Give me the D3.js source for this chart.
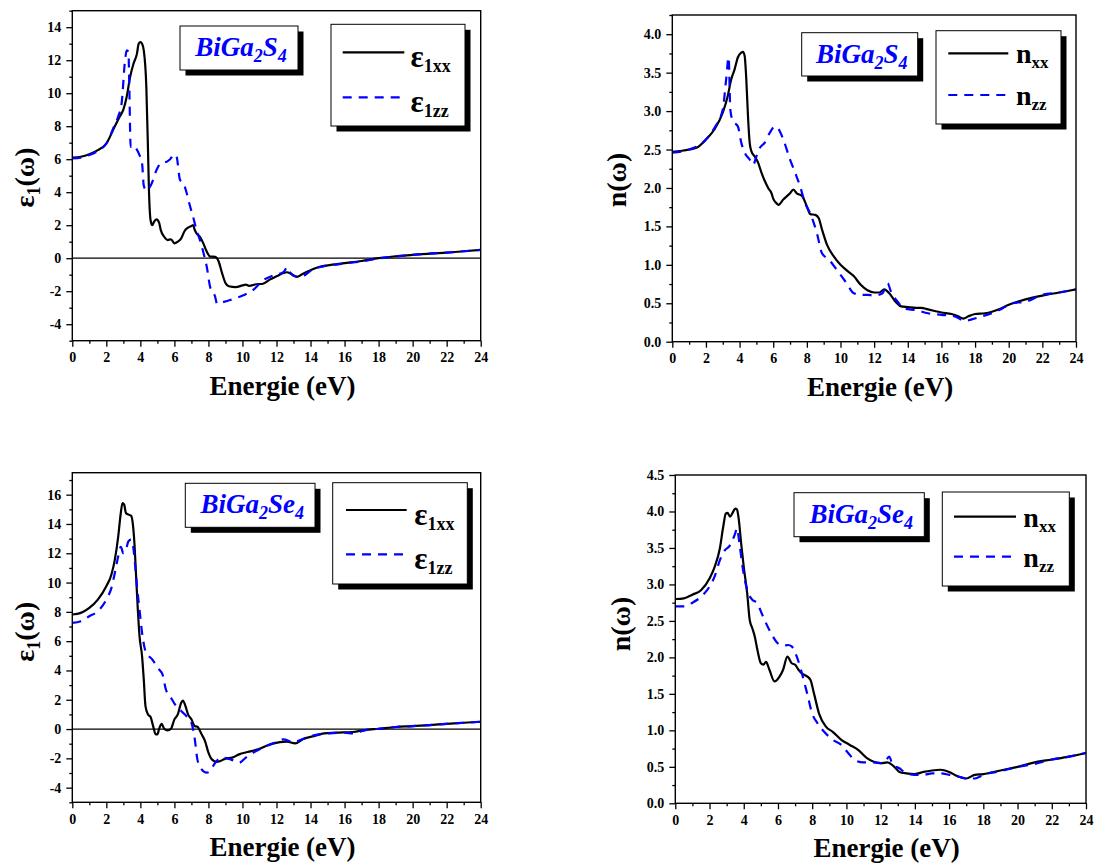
<!DOCTYPE html>
<html>
<head>
<meta charset="utf-8">
<script src="https://cdn.jsdelivr.net/npm/d3@7"></script>
<style>
body { margin: 0; background: #fff; }
</style>
</head>
<body>
<svg id="chart" width="1094" height="864"></svg>
<script>
var FONT = "Liberation Serif";

// x axis (energy, eV)
var xMajor = [0, 2, 4, 6, 8, 10, 12, 14, 16, 18, 20, 22, 24];
var xMinor = [1, 3, 5, 7, 9, 11, 13, 15, 17, 19, 21, 23];

// BiGa2S4 - real part of dielectric function
var eps1xx_S = [[0,6.1],[0.5,6.15],[1,6.3],[1.5,6.55],[2,6.95],[2.5,8.0],[2.8,8.6],[3,9.0],[3.2,9.8],[3.4,11.0],[3.6,11.8],[3.8,12.4],[3.9,13.0],[4.0,13.1],[4.1,13.0],[4.2,12.6],[4.35,10.4],[4.45,6.5],[4.5,4.3],[4.6,2.3],[4.7,2.0],[4.8,2.2],[4.95,2.35],[5.1,2.15],[5.2,1.7],[5.4,1.3],[5.6,1.1],[5.8,1.15],[6.0,0.9],[6.2,1.0],[6.4,1.2],[6.6,1.65],[6.8,1.85],[7.0,1.95],[7.1,2.0],[7.2,1.7],[7.3,1.5],[7.5,1.3],[7.7,0.9],[7.9,0.4],[8.1,0.1],[8.4,0.08],[8.6,-0.2],[8.8,-0.9],[9.0,-1.5],[9.2,-1.7],[9.6,-1.75],[10.0,-1.65],[10.2,-1.6],[10.4,-1.68],[10.8,-1.58],[11.2,-1.55],[11.6,-1.3],[12.0,-1.1],[12.4,-0.9],[12.6,-0.85],[12.9,-0.97],[13.2,-1.13],[13.5,-0.97],[14,-0.73],[14.5,-0.53],[15,-0.43],[16,-0.3],[17,-0.17],[18,0],[19,0.12],[20,0.2],[21,0.28],[22,0.34],[23,0.42],[24,0.5]];
var eps1zz_S = [[0,6.05],[0.5,6.1],[1,6.25],[1.5,6.5],[2,6.95],[2.5,8.1],[2.7,8.6],[2.9,9.4],[3.1,12.0],[3.2,12.6],[3.3,12.5],[3.35,10.4],[3.43,6.75],[3.6,6.85],[3.75,6.65],[3.95,6.25],[4.1,5.75],[4.2,4.4],[4.35,4.1],[4.65,4.5],[4.95,5.35],[5.25,5.8],[5.55,5.85],[5.75,6.0],[6.0,6.3],[6.13,6.15],[6.33,4.75],[6.52,4.55],[6.68,4.1],[6.88,3.3],[7.1,2.5],[7.3,1.7],[7.5,1.1],[7.74,0.2],[7.9,-0.5],[8.1,-1.75],[8.4,-2.35],[8.5,-2.75],[8.9,-2.65],[9.5,-2.45],[10.05,-2.25],[10.6,-1.95],[11.2,-1.35],[11.8,-1.05],[12.4,-0.85],[12.65,-0.55],[12.8,-0.85],[13.1,-1.1],[13.6,-1.05],[14.05,-0.73],[14.5,-0.55],[15,-0.45],[16,-0.32],[17,-0.2],[18,-0.02],[19,0.1],[20,0.2],[21,0.28],[22,0.34],[23,0.42],[24,0.5]];

// BiGa2S4 - refractive index
var nxx_S = [[0,2.47],[1,2.5],[1.5,2.53],[2,2.63],[2.5,2.76],[3,2.98],[3.3,3.2],[3.5,3.41],[3.7,3.54],[3.9,3.7],[4.1,3.76],[4.2,3.77],[4.3,3.72],[4.4,3.41],[4.5,2.93],[4.6,2.59],[4.7,2.48],[4.9,2.41],[5.1,2.33],[5.3,2.2],[5.5,2.09],[5.7,2.0],[5.9,1.93],[6.0,1.86],[6.2,1.8],[6.3,1.78],[6.6,1.85],[6.8,1.89],[7.0,1.93],[7.2,1.98],[7.4,1.93],[7.7,1.9],[8.0,1.76],[8.2,1.66],[8.5,1.65],[8.7,1.61],[8.9,1.46],[9.2,1.26],[9.6,1.11],[10.0,1.0],[10.3,0.94],[10.8,0.85],[11.2,0.74],[11.6,0.67],[12.0,0.64],[12.3,0.64],[12.6,0.68],[12.9,0.63],[13.2,0.54],[13.6,0.46],[14.0,0.45],[14.5,0.44],[14.8,0.44],[15.2,0.42],[15.6,0.4],[16.0,0.38],[16.6,0.36],[17.0,0.33],[17.3,0.3],[17.6,0.33],[18.0,0.36],[18.6,0.37],[19.0,0.39],[19.5,0.43],[20,0.48],[21,0.55],[22,0.6],[23,0.64],[24,0.68]];
var nzz_S = [[0,2.46],[1,2.5],[2,2.63],[2.5,2.78],[3,3.02],[3.2,3.41],[3.35,3.7],[3.45,3.02],[3.6,2.87],[3.9,2.8],[4.1,2.59],[4.3,2.46],[4.6,2.37],[4.8,2.3],[5.0,2.41],[5.2,2.52],[5.5,2.59],[5.8,2.72],[6.1,2.8],[6.3,2.77],[6.6,2.63],[7.0,2.37],[7.3,2.2],[7.6,2.02],[7.9,1.8],[8.2,1.67],[8.6,1.41],[8.9,1.15],[9.3,1.07],[9.8,0.93],[10.3,0.78],[10.8,0.63],[11.2,0.61],[11.6,0.61],[12.0,0.6],[12.5,0.63],[12.8,0.76],[13.0,0.65],[13.4,0.52],[13.8,0.43],[14.5,0.41],[15.2,0.37],[16.0,0.35],[16.8,0.33],[17.4,0.27],[17.8,0.29],[18.4,0.33],[19.0,0.37],[19.6,0.43],[20.2,0.5],[21,0.52],[22,0.61],[23,0.64],[24,0.68]];

// BiGa2Se4 - real part of dielectric function
var eps1xx_Se = [[0,7.82],[0.5,7.93],[1,8.27],[1.5,8.84],[2,9.75],[2.3,10.55],[2.5,11.57],[2.7,13.16],[2.85,14.75],[2.95,15.43],[3.05,15.32],[3.15,14.75],[3.3,14.64],[3.45,14.57],[3.55,14.07],[3.65,12.7],[3.75,10.43],[3.85,8.16],[3.95,6.34],[4.1,4.98],[4.2,3.39],[4.3,1.57],[4.45,1.0],[4.6,0.82],[4.75,0.2],[4.9,-0.36],[5.0,-0.36],[5.1,0.0],[5.25,0.36],[5.4,0.02],[5.6,-0.09],[5.8,0.02],[6.0,0.66],[6.2,1.0],[6.4,1.8],[6.5,1.95],[6.65,1.57],[6.8,1.0],[7.0,0.66],[7.2,0.2],[7.35,0.16],[7.6,-0.36],[7.8,-0.82],[8.0,-1.61],[8.2,-2.07],[8.5,-2.25],[8.7,-2.18],[9.0,-2.02],[9.4,-1.95],[9.8,-1.73],[10.3,-1.57],[11.0,-1.34],[11.6,-1.05],[12.2,-0.89],[12.6,-0.86],[13.1,-0.98],[13.6,-0.66],[14.2,-0.48],[14.8,-0.3],[15.5,-0.25],[16.5,-0.2],[17.2,-0.07],[18,0.02],[19,0.14],[20,0.2],[21,0.27],[22,0.36],[23,0.43],[24,0.5]];
var eps1zz_Se = [[0,7.25],[0.5,7.36],[1,7.7],[1.5,8.05],[2,8.84],[2.3,9.64],[2.5,10.66],[2.7,11.8],[2.85,12.43],[3.0,12.0],[3.15,12.25],[3.3,12.82],[3.45,12.93],[3.6,12.25],[3.7,11.1],[3.8,9.75],[3.95,8.16],[4.1,6.57],[4.3,5.32],[4.5,4.98],[4.7,4.75],[4.9,4.41],[5.1,4.07],[5.3,3.73],[5.5,2.7],[5.8,2.14],[6.1,1.57],[6.4,1.23],[6.7,0.89],[7.0,0.43],[7.2,-0.7],[7.35,-2.07],[7.6,-2.75],[7.9,-2.98],[8.1,-2.86],[8.4,-2.3],[8.8,-1.95],[9.3,-2.07],[9.8,-2.3],[10.2,-1.95],[10.8,-1.5],[11.4,-1.16],[12.0,-0.89],[12.4,-0.7],[13.0,-0.89],[13.6,-0.66],[14.2,-0.43],[15,-0.3],[16,-0.25],[16.5,-0.3],[17.2,-0.07],[18,0.02],[19,0.14],[20,0.2],[21,0.27],[22,0.36],[23,0.43],[24,0.5]];

// BiGa2Se4 - refractive index
var nxx_Se = [[0,2.8],[0.5,2.81],[1,2.86],[1.5,2.92],[2,3.08],[2.3,3.24],[2.6,3.49],[2.8,3.79],[2.95,3.97],[3.05,3.98],[3.2,3.93],[3.35,3.98],[3.5,4.04],[3.6,4.03],[3.7,3.91],[3.85,3.56],[4.0,3.24],[4.2,2.88],[4.35,2.51],[4.5,2.4],[4.65,2.28],[4.8,2.1],[5.0,1.92],[5.15,1.9],[5.3,1.94],[5.5,1.83],[5.8,1.67],[6.1,1.74],[6.3,1.83],[6.55,2.01],[6.8,1.92],[7.0,1.9],[7.2,1.83],[7.4,1.78],[7.7,1.74],[7.9,1.69],[8.1,1.51],[8.4,1.23],[8.8,1.05],[9.2,0.98],[9.7,0.87],[10.2,0.8],[10.7,0.73],[11.2,0.62],[11.6,0.57],[12.0,0.55],[12.4,0.56],[12.8,0.5],[13.1,0.43],[13.5,0.41],[14.0,0.4],[14.5,0.43],[15,0.45],[15.5,0.46],[16.0,0.43],[16.5,0.37],[17.0,0.34],[17.5,0.39],[18,0.4],[19,0.45],[20,0.5],[21,0.56],[22,0.6],[23,0.64],[24,0.69]];
var nzz_Se = [[0,2.7],[0.5,2.7],[1,2.75],[1.5,2.83],[2,2.97],[2.3,3.11],[2.6,3.33],[2.9,3.47],[3.15,3.52],[3.35,3.61],[3.5,3.7],[3.6,3.77],[3.75,3.56],[3.9,3.29],[4.1,3.02],[4.3,2.86],[4.5,2.79],[4.8,2.74],[5.0,2.63],[5.3,2.47],[5.6,2.33],[6.0,2.19],[6.3,2.16],[6.6,2.17],[6.8,2.15],[7.1,2.01],[7.4,1.78],[7.7,1.51],[8.0,1.23],[8.3,1.1],[8.7,0.98],[9.2,0.87],[9.7,0.8],[10.1,0.69],[10.5,0.59],[11.0,0.56],[11.6,0.56],[12.2,0.55],[12.5,0.64],[12.7,0.53],[13.1,0.48],[13.5,0.41],[14,0.39],[14.5,0.39],[15.0,0.41],[15.5,0.41],[16.0,0.39],[16.5,0.37],[17.0,0.34],[17.5,0.34],[18,0.39],[19,0.44],[20,0.5],[21,0.54],[22,0.6],[23,0.64],[24,0.69]];

var xTitle = "Energie (eV)";
var epsTitle = [["ε", 0], ["1", 1], ["(ω)", 0]];
var nTitle = [["n(ω)", 0]];

var panels = [
  { x0: 72.3, x1: 480.7, y0: 10.7, y1: 340.7, yDom: [-5, 15], step: 2, fmt: function(d) { return String(d); },
    xx: eps1xx_S, zz: eps1zz_S, title: epsTitle, titleX: 34, titleY: 177.5,
    label: { x: 180, y: 26, w: 118, h: 44, parts: [["BiGa", 0], ["2", 1], ["S", 0], ["4", 1]] },
    legend: { x: 331, y: 24.3, w: 134, h: 101.7, rows: [28, 73], lx0: 11.7, lx1: 73.3, tx: 79.5, base: 14.5, main: "ε", subs: ["1xx", "1zz"] } },
  { x0: 672.3, x1: 1076, y0: 15, y1: 341.7, yDom: [0, 4.25], step: 0.5, fmt: d3.format(".1f"),
    xx: nxx_S, zz: nzz_S, title: nTitle, titleX: 626, titleY: 180,
    label: { x: 801.7, y: 32.7, w: 116, h: 43.3, parts: [["BiGa", 0], ["2", 1], ["S", 0], ["4", 1]] },
    legend: { x: 936, y: 30.7, w: 125, h: 93.3, rows: [22.7, 64.3], lx0: 12.3, lx1: 72.3, tx: 80, base: 10, main: "n", subs: ["xx", "zz"] } },
  { x0: 72.3, x1: 480.7, y0: 472.7, y1: 802.3, yDom: [-5, 17.5], step: 2, fmt: function(d) { return String(d); },
    xx: eps1xx_Se, zz: eps1zz_Se, title: epsTitle, titleX: 34, titleY: 631.7,
    label: { x: 185.3, y: 483.3, w: 129.7, h: 44, parts: [["BiGa", 0], ["2", 1], ["Se", 0], ["4", 1]] },
    legend: { x: 332.7, y: 482.7, w: 134.6, h: 101.3, rows: [27.3, 71.6], lx0: 13.3, lx1: 74, tx: 81.6, base: 14.5, main: "ε", subs: ["1xx", "1zz"] } },
  { x0: 675.3, x1: 1086, y0: 475, y1: 803.3, yDom: [0, 4.5], step: 0.5, fmt: d3.format(".1f"),
    xx: nxx_Se, zz: nzz_Se, title: nTitle, titleX: 630, titleY: 624,
    label: { x: 794, y: 492.7, w: 130.3, h: 44, parts: [["BiGa", 0], ["2", 1], ["Se", 0], ["4", 1]] },
    legend: { x: 942.3, y: 492, w: 127, h: 94, rows: [24.7, 64.7], lx0: 11.7, lx1: 73.7, tx: 81, base: 10, main: "n", subs: ["xx", "zz"] } }
];

var svg = d3.select("#chart");

// text made of normal and subscript pieces
function richText(t, parts, big, small, drop) {
  var down = false;
  parts.forEach(function(p) {
    var s = t.append("tspan").text(p[0]);
    if (p[1]) {
      s.style("font-size", small + "px").attr("dy", down ? 0 : drop);
      down = true;
    } else {
      s.style("font-size", big + "px").attr("dy", down ? -drop : 0);
      down = false;
    }
  });
}

function drawPanel(p, i) {
  var x = d3.scaleLinear().domain([0, 24]).range([p.x0, p.x1]);
  var y = d3.scaleLinear().domain(p.yDom).range([p.y1, p.y0]);
  var g = svg.append("g");

  g.append("clipPath").attr("id", "clip" + i)
    .append("rect").attr("x", p.x0).attr("y", p.y0)
    .attr("width", p.x1 - p.x0).attr("height", p.y1 - p.y0);

  var yMajor = d3.range(Math.ceil(p.yDom[0] / p.step) * p.step, p.yDom[1] + 1e-9, p.step)
    .map(function(v) { return +v.toFixed(3); });
  var yMinor = d3.range(Math.ceil(p.yDom[0] / (p.step / 2)) * (p.step / 2), p.yDom[1] + 1e-9, p.step / 2)
    .map(function(v) { return +v.toFixed(3); })
    .filter(function(v) { return yMajor.indexOf(v) < 0; });

  if (p.yDom[0] < 0) {
    g.append("line")
      .attr("x1", p.x0).attr("x2", p.x1)
      .attr("y1", y(0)).attr("y2", y(0))
      .attr("stroke", "#000").attr("stroke-width", 1.2);
  }

  var line = d3.line()
    .x(function(d) { return x(d[0]); })
    .y(function(d) { return y(d[1]); })
    .curve(d3.curveMonotoneX);

  var curves = g.append("g").attr("clip-path", "url(#clip" + i + ")");
  curves.append("path").datum(p.xx)
    .attr("d", line).attr("fill", "none")
    .attr("stroke", "#000").attr("stroke-width", 2.2);
  curves.append("path").datum(p.zz)
    .attr("d", line).attr("fill", "none")
    .attr("stroke", "#0000ff").attr("stroke-width", 2.2)
    .attr("stroke-dasharray", "9,7");

  // frame
  g.append("rect")
    .attr("x", p.x0).attr("y", p.y0)
    .attr("width", p.x1 - p.x0).attr("height", p.y1 - p.y0)
    .attr("fill", "none").attr("stroke", "#000").attr("stroke-width", 1.4);

  // axes
  g.append("g").attr("transform", "translate(0," + p.y1 + ")")
    .call(d3.axisBottom(x).tickValues(xMajor).tickSize(6).tickSizeOuter(0).tickPadding(5.5)
      .tickFormat(function(d) { return String(d); }));
  g.append("g").attr("transform", "translate(0," + p.y1 + ")")
    .call(d3.axisBottom(x).tickValues(xMinor).tickSize(3).tickSizeOuter(0).tickFormat(""));
  g.append("g").attr("transform", "translate(" + p.x0 + ",0)")
    .call(d3.axisLeft(y).tickValues(yMajor).tickSize(6).tickSizeOuter(0).tickPadding(5).tickFormat(p.fmt));
  g.append("g").attr("transform", "translate(" + p.x0 + ",0)")
    .call(d3.axisLeft(y).tickValues(yMinor).tickSize(3).tickSizeOuter(0).tickFormat(""));

  g.selectAll(".domain").remove();
  g.selectAll(".tick line").attr("stroke", "#000").attr("stroke-width", 1.3);
  g.selectAll(".tick text").style("font-size", "14px").attr("fill", "#000");

  // axis titles
  g.append("text")
    .attr("x", (p.x0 + p.x1) / 2 + 6).attr("y", p.y1 + 54)
    .attr("text-anchor", "middle")
    .style("font-size", "27px")
    .text(xTitle);

  var yt = g.append("text")
    .attr("transform", "translate(" + p.titleX + "," + p.titleY + ") rotate(-90)")
    .attr("text-anchor", "middle");
  richText(yt, p.title, 28, 18, 6);

  // compound label
  var L = p.label;
  g.append("rect").attr("x", L.x + 5.5).attr("y", L.y + 5.5)
    .attr("width", L.w).attr("height", L.h).attr("fill", "#000");
  g.append("rect").attr("x", L.x).attr("y", L.y)
    .attr("width", L.w).attr("height", L.h)
    .attr("fill", "#fff").attr("stroke", "#000").attr("stroke-width", 1);
  var lt = g.append("text")
    .attr("x", L.x + L.w / 2 + 2).attr("y", L.y + 30)
    .attr("text-anchor", "middle")
    .attr("fill", "#0000ff");
  richText(lt, L.parts, 27, 18, 6);
  lt.style("font-style", "italic");

  // legend
  var G = p.legend;
  g.append("rect").attr("x", G.x + 5.5).attr("y", G.y + 5.5)
    .attr("width", G.w).attr("height", G.h).attr("fill", "#000");
  g.append("rect").attr("x", G.x).attr("y", G.y)
    .attr("width", G.w).attr("height", G.h)
    .attr("fill", "#fff").attr("stroke", "#000").attr("stroke-width", 1);
  G.rows.forEach(function(r, k) {
    g.append("line")
      .attr("x1", G.x + G.lx0).attr("x2", G.x + G.lx1)
      .attr("y1", G.y + r).attr("y2", G.y + r)
      .attr("stroke", k === 0 ? "#000" : "#0000ff")
      .attr("stroke-width", 2.2)
      .attr("stroke-dasharray", k === 0 ? null : "9,7");
    var tt = g.append("text")
      .attr("x", G.x + G.tx).attr("y", G.y + r + G.base);
    if (G.main === "ε") richText(tt, [[G.main, 0], [G.subs[k], 1]], 31, 18, 5);
    else richText(tt, [[G.main, 0], [G.subs[k], 1]], 28, 17, 5);
  });
}

panels.forEach(drawPanel);

// Times-like bold serif everywhere
svg.selectAll("text")
  .style("font-family", FONT)
  .style("font-weight", "bold");
</script>
</body>
</html>
